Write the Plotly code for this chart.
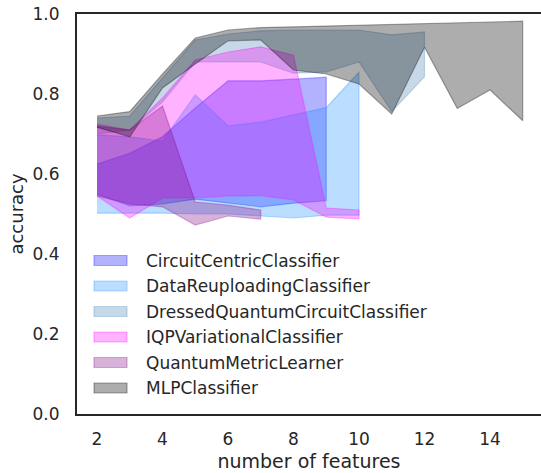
import plotly.graph_objects as go

# ---- accuracy ranges (min / max over runs) per number of features ----
model_names = [
    "CircuitCentricClassifier",
    "DataReuploadingClassifier",
    "DressedQuantumCircuitClassifier",
    "IQPVariationalClassifier",
    "QuantumMetricLearner",
    "MLPClassifier",
]

cc_features = [2, 3, 4, 5, 6, 7, 8, 9]
cc_max = [0.625, 0.652, 0.693, 0.765, 0.833, 0.833, 0.837, 0.842]
cc_min = [0.550, 0.520, 0.525, 0.537, 0.527, 0.518, 0.527, 0.533]

dr_features = [2, 3, 4, 5, 6, 7, 8, 9, 10]
dr_max = [0.698, 0.693, 0.682, 0.798, 0.720, 0.730, 0.748, 0.766, 0.855]
dr_min = [0.502, 0.502, 0.502, 0.500, 0.500, 0.495, 0.490, 0.497, 0.497]

dq_features = [2, 3, 4, 5, 6, 7, 8, 9, 10, 11, 12]
dq_max = [0.740, 0.745, 0.840, 0.935, 0.950, 0.958, 0.960, 0.960, 0.960, 0.948, 0.955]
dq_min = [0.700, 0.710, 0.780, 0.880, 0.880, 0.880, 0.852, 0.855, 0.880, 0.756, 0.843]

iqp_features = [2, 3, 4, 5, 6, 7, 8, 9, 10]
iqp_max = [0.725, 0.710, 0.790, 0.885, 0.905, 0.918, 0.897, 0.515, 0.510]
iqp_min = [0.545, 0.490, 0.540, 0.540, 0.545, 0.546, 0.535, 0.492, 0.488]

qml_features = [2, 3, 4, 5, 6, 7]
qml_max = [0.720, 0.710, 0.770, 0.530, 0.522, 0.510]
qml_min = [0.545, 0.525, 0.518, 0.4725, 0.495, 0.487]

mlp_features = [2, 3, 4, 5, 6, 7, 8, 9, 10, 11, 12, 13, 14, 15]
mlp_max = [0.745, 0.756, 0.850, 0.940, 0.960, 0.966, 0.968, 0.970, 0.972,
           0.974, 0.976, 0.978, 0.980, 0.982]
mlp_min = [0.717, 0.693, 0.815, 0.875, 0.933, 0.935, 0.860, 0.850, 0.825,
           0.750, 0.917, 0.764, 0.810, 0.733]

x_ticks = [2, 4, 6, 8, 10, 12, 14]
y_ticks = [0.0, 0.2, 0.4, 0.6, 0.8, 1.0]

bands = [
    (cc_features, cc_min, cc_max),
    (dr_features, dr_min, dr_max),
    (dq_features, dq_min, dq_max),
    (iqp_features, iqp_min, iqp_max),
    (qml_features, qml_min, qml_max),
    (mlp_features, mlp_min, mlp_max),
]
band_colors = [
    "rgba(0,0,255,0.30)",
    "rgba(30,144,255,0.30)",
    "rgba(70,130,180,0.30)",
    "rgba(255,0,255,0.30)",
    "rgba(128,0,128,0.30)",
    "rgba(0,0,0,0.32)",
]

W, H = 541, 473
L, T, B, R = 77, 14, 59, 0
PW, PH = W - L - R, H - T - B
TEXT = "#262626"
FONT = "DejaVu Sans"

fig = go.Figure()
for (feats, lo, hi), col, name in zip(bands, band_colors, model_names):
    fig.add_trace(go.Scatter(
        x=list(feats) + list(feats)[::-1],
        y=list(hi) + list(lo)[::-1],
        mode="lines",
        fill="toself",
        fillcolor=col,
        line=dict(color=col, width=1.2),
        name=name,
        showlegend=False,
        hoverinfo="skip",
    ))


def px_x(p):
    return (p - L) / PW


def px_y(p):
    return (T + PH - p) / PH


# legend drawn as patches + labels
shapes = []
annotations = []
row0, step = 260.5, 25.5
for i, (name, col) in enumerate(zip(model_names, band_colors)):
    cy = row0 + i * step
    shapes.append(dict(
        type="rect", xref="paper", yref="paper",
        x0=px_x(94), x1=px_x(127), y0=px_y(cy + 5), y1=px_y(cy - 5),
        fillcolor=col, line=dict(color=col, width=1.2), layer="above",
    ))
    annotations.append(dict(
        x=px_x(144), y=px_y(cy), xref="paper", yref="paper",
        text=name, showarrow=False, xanchor="left", yanchor="middle",
        font=dict(family=FONT, size=17, color=TEXT),
    ))

fig.update_layout(
    width=W, height=H,
    margin=dict(l=L, r=R, t=T, b=B),
    paper_bgcolor="white",
    plot_bgcolor="white",
    font=dict(family=FONT, color=TEXT, size=17),
    shapes=shapes,
    annotations=annotations,
    showlegend=False,
)
fig.update_xaxes(
    range=[2 - 20 / 32.75, 2 + 444 / 32.75],
    tickvals=x_ticks,
    ticktext=[str(v) for v in x_ticks],
    showgrid=False, zeroline=False,
    showline=True, mirror=True, linecolor=TEXT, linewidth=2,
    ticks="", ticklabelstandoff=9,
    tickfont=dict(family=FONT, size=17, color=TEXT),
    title=dict(text="number of features", standoff=6,
               font=dict(family=FONT, size=19, color=TEXT)),
)
fig.update_yaxes(
    range=[0, 1.0],
    tickvals=y_ticks,
    ticktext=[f"{v:.1f}" for v in y_ticks],
    showgrid=False, zeroline=False,
    showline=True, mirror=False, linecolor=TEXT, linewidth=2,
    ticks="", ticklabelstandoff=12,
    tickfont=dict(family=FONT, size=17, color=TEXT),
    title=dict(text="accuracy", standoff=4,
               font=dict(family=FONT, size=18, color=TEXT)),
)

fig.write_html("out.html")
